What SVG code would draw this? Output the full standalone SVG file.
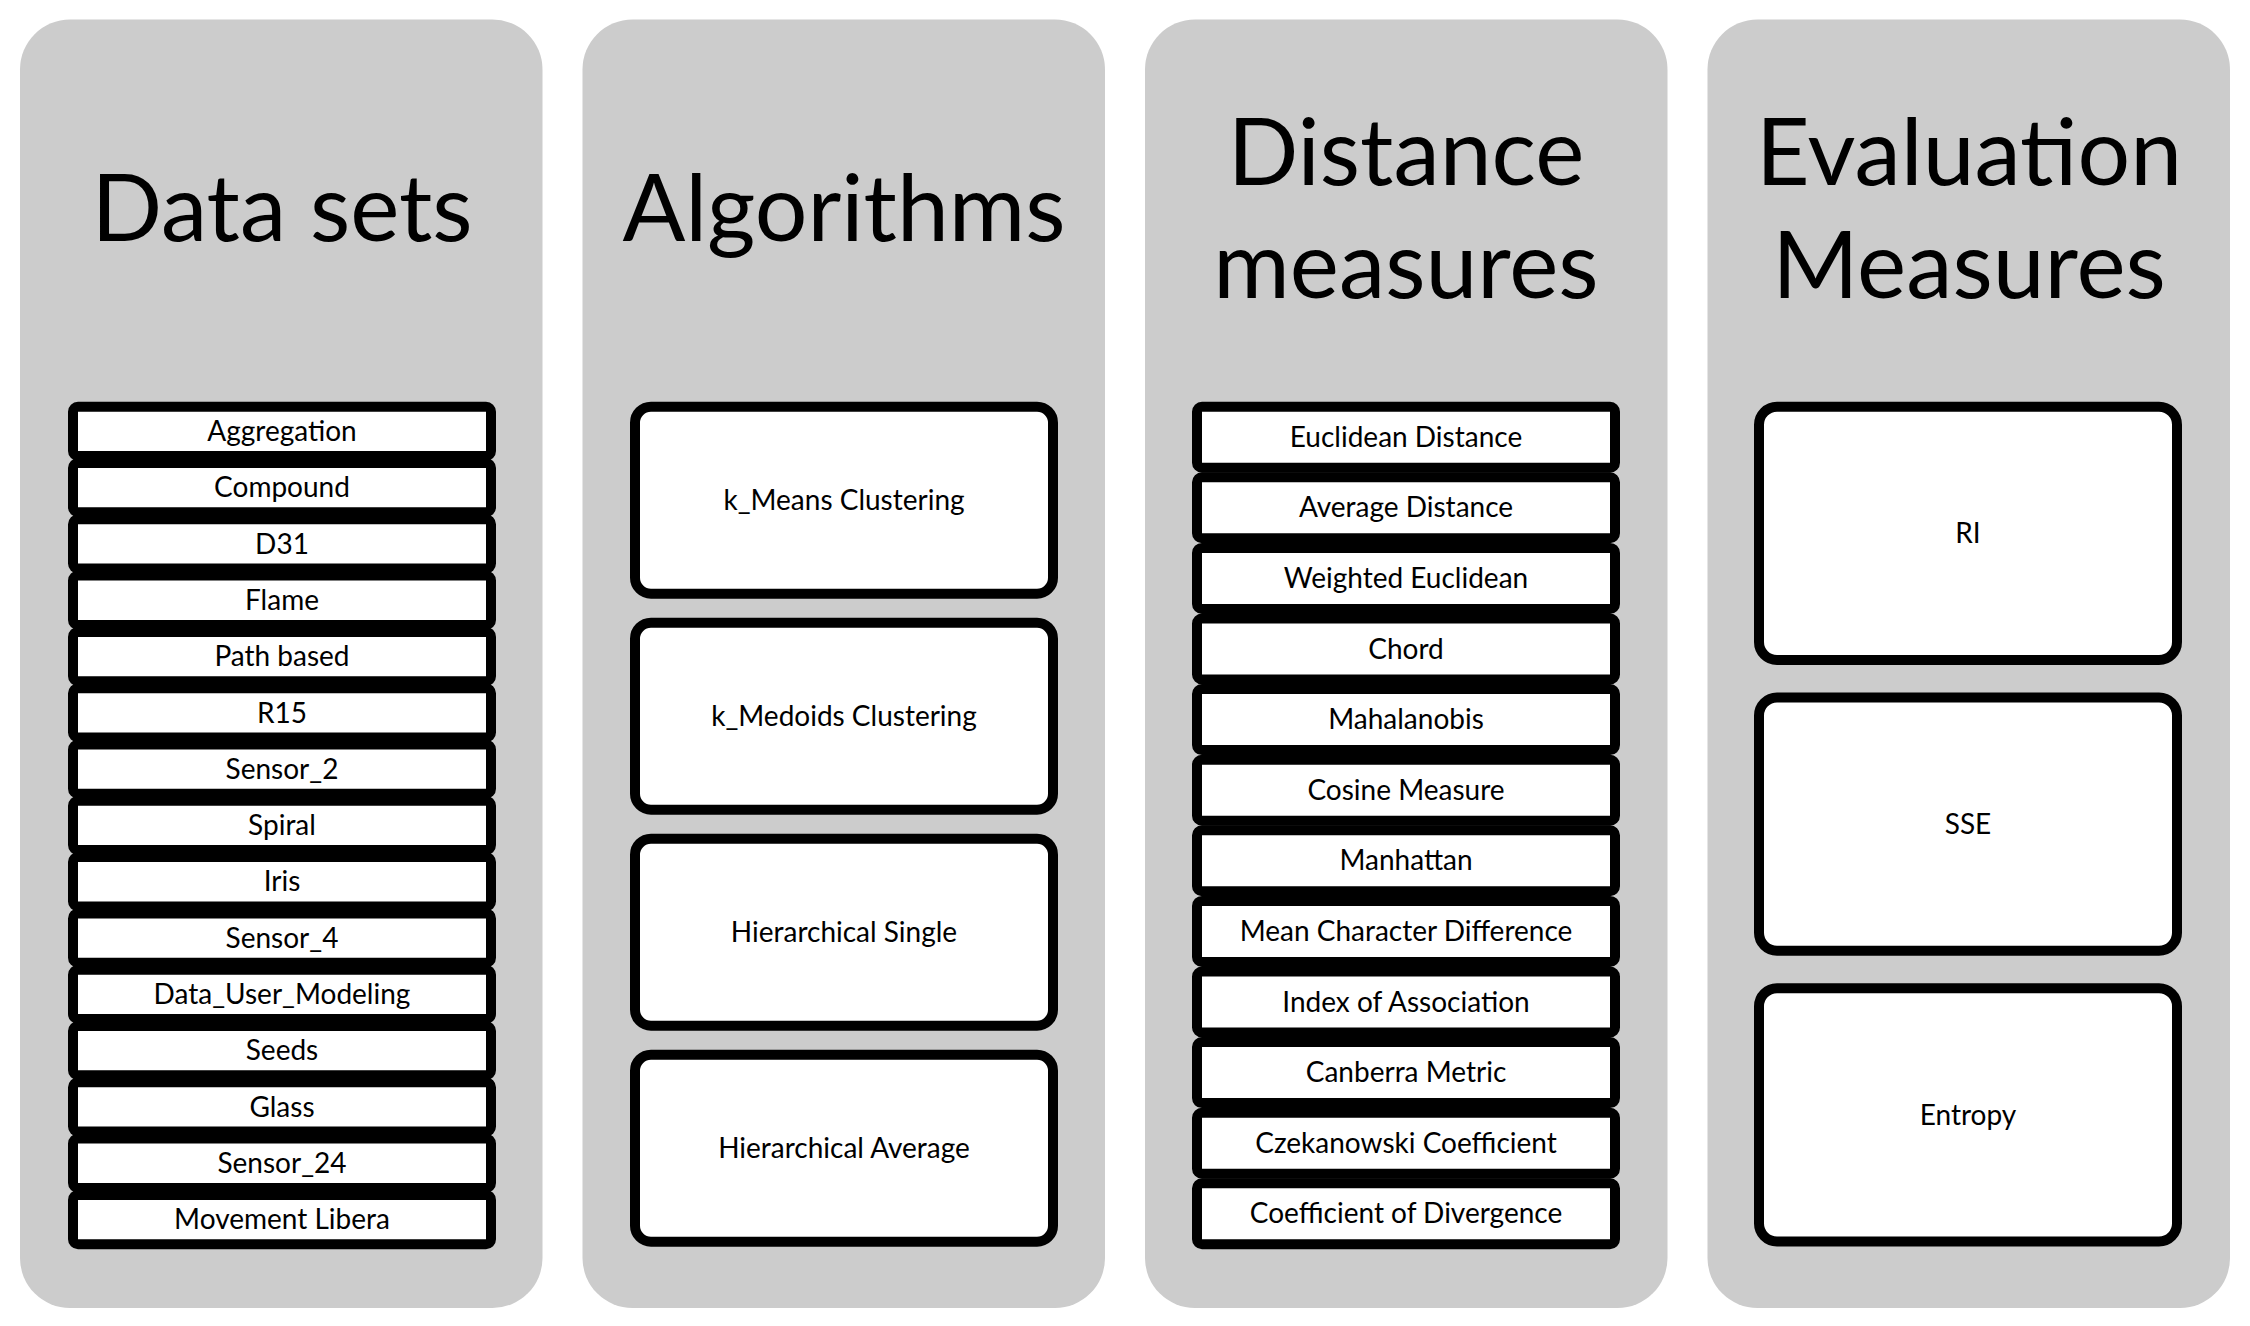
<svg xmlns="http://www.w3.org/2000/svg" width="2250" height="1326" viewBox="0 0 2250 1326">
<style>
.panel{fill:#cccccc;}
.title{font-family:Lato,"Open Sans",sans-serif;font-size:93px;fill:#000;text-anchor:middle;}
.item{fill:#fff;stroke:#000;stroke-width:10;}
.lbl{font-family:Lato,"Open Sans",sans-serif;font-size:28px;fill:#000;text-anchor:middle;}
</style>
<rect x="0" y="0" width="2250" height="1326" fill="#fff"/>
<g id="connectors"/>
<g id="panel-datasets">
<rect class="panel" x="20" y="19.5" width="522.5" height="1288.5" rx="50"/>
<text class="title" x="282" y="241">Data sets</text>
<g id="ds-aggregation"><rect class="item" x="73" y="406.7" width="418" height="49.3" rx="5"/><text class="lbl" x="282" y="441">Aggregation</text></g>
<g id="ds-compound"><rect class="item" x="73" y="463" width="418" height="49.3" rx="5"/><text class="lbl" x="282" y="497.3">Compound</text></g>
<g id="ds-d31"><rect class="item" x="73" y="519.3" width="418" height="49.3" rx="5"/><text class="lbl" x="282" y="553.6">D31</text></g>
<g id="ds-flame"><rect class="item" x="73" y="575.6" width="418" height="49.3" rx="5"/><text class="lbl" x="282" y="609.9">Flame</text></g>
<g id="ds-pathbased"><rect class="item" x="73" y="631.9" width="418" height="49.3" rx="5"/><text class="lbl" x="282" y="666.2">Path based</text></g>
<g id="ds-r15"><rect class="item" x="73" y="688.2" width="418" height="49.3" rx="5"/><text class="lbl" x="282" y="722.5">R15</text></g>
<g id="ds-sensor2"><rect class="item" x="73" y="744.5" width="418" height="49.3" rx="5"/><text class="lbl" x="282" y="778.8">Sensor_2</text></g>
<g id="ds-spiral"><rect class="item" x="73" y="800.8" width="418" height="49.3" rx="5"/><text class="lbl" x="282" y="835.1">Spiral</text></g>
<g id="ds-iris"><rect class="item" x="73" y="857.1" width="418" height="49.3" rx="5"/><text class="lbl" x="282" y="891.4">Iris</text></g>
<g id="ds-sensor4"><rect class="item" x="73" y="913.4" width="418" height="49.3" rx="5"/><text class="lbl" x="282" y="947.7">Sensor_4</text></g>
<g id="ds-datausermodeling"><rect class="item" x="73" y="969.7" width="418" height="49.3" rx="5"/><text class="lbl" x="282" y="1004">Data_User_Modeling</text></g>
<g id="ds-seeds"><rect class="item" x="73" y="1026" width="418" height="49.3" rx="5"/><text class="lbl" x="282" y="1060.3">Seeds</text></g>
<g id="ds-glass"><rect class="item" x="73" y="1082.3" width="418" height="49.3" rx="5"/><text class="lbl" x="282" y="1116.6">Glass</text></g>
<g id="ds-sensor24"><rect class="item" x="73" y="1138.6" width="418" height="49.3" rx="5"/><text class="lbl" x="282" y="1172.9">Sensor_24</text></g>
<g id="ds-movementlibera"><rect class="item" x="73" y="1194.9" width="418" height="49.3" rx="5"/><text class="lbl" x="282" y="1229.2">Movement Libera</text></g>
</g>
<g id="panel-algorithms">
<rect class="panel" x="582.5" y="19.5" width="522.5" height="1288.5" rx="50"/>
<text class="title" x="844" y="241">Algorithms</text>
<g id="alg-kmeans"><rect class="item" x="635" y="406.7" width="418" height="187" rx="16"/><text class="lbl" x="844" y="509.8">k_Means Clustering</text></g>
<g id="alg-kmedoids"><rect class="item" x="635" y="622.7" width="418" height="187" rx="16"/><text class="lbl" x="844" y="725.8">k_Medoids Clustering</text></g>
<g id="alg-hsingle"><rect class="item" x="635" y="838.7" width="418" height="187" rx="16"/><text class="lbl" x="844" y="941.8">Hierarchical Single</text></g>
<g id="alg-haverage"><rect class="item" x="635" y="1054.7" width="418" height="187" rx="16"/><text class="lbl" x="844" y="1157.8">Hierarchical Average</text></g>
</g>
<g id="panel-distance">
<rect class="panel" x="1145" y="19.5" width="522.5" height="1288.5" rx="50"/>
<text class="title" x="1406" y="185">Distance</text>
<text class="title" x="1406" y="298">measures</text>
<g id="dm-euclidean"><rect class="item" x="1197" y="406.7" width="418" height="61" rx="5"/><text class="lbl" x="1406" y="446.8">Euclidean Distance</text></g>
<g id="dm-average"><rect class="item" x="1197" y="477.3" width="418" height="61" rx="5"/><text class="lbl" x="1406" y="517.4">Average Distance</text></g>
<g id="dm-weighted"><rect class="item" x="1197" y="547.9" width="418" height="61" rx="5"/><text class="lbl" x="1406" y="588">Weighted Euclidean</text></g>
<g id="dm-chord"><rect class="item" x="1197" y="618.5" width="418" height="61" rx="5"/><text class="lbl" x="1406" y="658.6">Chord</text></g>
<g id="dm-mahalanobis"><rect class="item" x="1197" y="689.1" width="418" height="61" rx="5"/><text class="lbl" x="1406" y="729.2">Mahalanobis</text></g>
<g id="dm-cosine"><rect class="item" x="1197" y="759.7" width="418" height="61" rx="5"/><text class="lbl" x="1406" y="799.8">Cosine Measure</text></g>
<g id="dm-manhattan"><rect class="item" x="1197" y="830.3" width="418" height="61" rx="5"/><text class="lbl" x="1406" y="870.4">Manhattan</text></g>
<g id="dm-meanchar"><rect class="item" x="1197" y="900.9" width="418" height="61" rx="5"/><text class="lbl" x="1406" y="941">Mean Character Difference</text></g>
<g id="dm-indexassoc"><rect class="item" x="1197" y="971.5" width="418" height="61" rx="5"/><text class="lbl" x="1406" y="1011.6">Index of Association</text></g>
<g id="dm-canberra"><rect class="item" x="1197" y="1042.1" width="418" height="61" rx="5"/><text class="lbl" x="1406" y="1082.2">Canberra Metric</text></g>
<g id="dm-czekanowski"><rect class="item" x="1197" y="1112.7" width="418" height="61" rx="5"/><text class="lbl" x="1406" y="1152.8">Czekanowski Coefficient</text></g>
<g id="dm-divergence"><rect class="item" x="1197" y="1183.3" width="418" height="61" rx="5"/><text class="lbl" x="1406" y="1223.4">Coefficient of Divergence</text></g>
</g>
<g id="panel-evaluation">
<rect class="panel" x="1707.5" y="19.5" width="522.5" height="1288.5" rx="50"/>
<text class="title" x="1969" y="185">Evaluation</text>
<text class="title" x="1969" y="298">Measures</text>
<g id="ev-ri"><rect class="item" x="1759" y="406.7" width="418" height="253.3" rx="18"/><text class="lbl" x="1968" y="542.9">RI</text></g>
<g id="ev-sse"><rect class="item" x="1759" y="697.5" width="418" height="253.3" rx="18"/><text class="lbl" x="1968" y="833.7">SSE</text></g>
<g id="ev-entropy"><rect class="item" x="1759" y="988.3" width="418" height="253.3" rx="18"/><text class="lbl" x="1968" y="1124.5">Entropy</text></g>
</g>
</svg>
